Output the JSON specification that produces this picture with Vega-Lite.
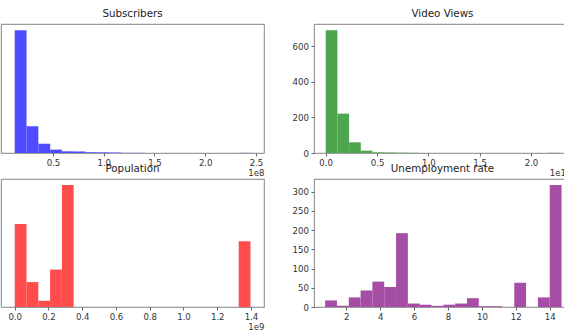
{
  "$schema": "https://vega.github.io/schema/vega-lite/v6.json",
  "background": "white",
  "padding": {"left": 0, "top": 8, "right": 0, "bottom": 0},
  "bounds": "flush",
  "columns": 2,
  "spacing": {"row": 26, "column": 50},
  "config": {
    "view": {"stroke": "#666", "strokeWidth": 0.8},
    "axis": {
      "domain": false, "grid": false, "tickColor": "#444", "tickSize": 3, "tickWidth": 0.8,
      "labelFont": "DejaVu Sans", "labelFontSize": 8.6, "labelColor": "#333", "labelPadding": 2.5,
      "labelFlush": false,
      "titleFont": "DejaVu Sans", "titleFontSize": 8.6, "titleFontWeight": "normal", "titleColor": "#333",
      "titlePadding": 1, "titleAnchor": "end"
    },
    "title": {"font": "DejaVu Sans", "fontSize": 10.3, "fontWeight": "normal", "color": "#222", "offset": 5, "baseline": "alphabetic", "anchor": "middle"}
  },
  "concat": [
    {
      "width": 263, "height": 129,
      "title": {"text": "Subscribers"},
      "data": {"values": [
        {"bin_start": 0.1230, "bin_end": 0.2394, "count": 728},
        {"bin_start": 0.2394, "bin_end": 0.3557, "count": 158},
        {"bin_start": 0.3557, "bin_end": 0.4721, "count": 55},
        {"bin_start": 0.4721, "bin_end": 0.5884, "count": 20},
        {"bin_start": 0.5884, "bin_end": 0.7048, "count": 10},
        {"bin_start": 0.7048, "bin_end": 0.8211, "count": 9},
        {"bin_start": 0.8211, "bin_end": 0.9375, "count": 5},
        {"bin_start": 0.9375, "bin_end": 1.0538, "count": 4},
        {"bin_start": 1.0538, "bin_end": 1.1702, "count": 3},
        {"bin_start": 1.1702, "bin_end": 1.2865, "count": 1},
        {"bin_start": 1.2865, "bin_end": 1.4029, "count": 1},
        {"bin_start": 2.3337, "bin_end": 2.4500, "count": 1}
      ]},
      "mark": {"type": "bar", "color": "#4d4dff", "opacity": 1},
      "encoding": {
        "x": {"field": "bin_start", "type": "quantitative",
              "scale": {"domain": [-0.0123, 2.579], "nice": false, "zero": false},
              "axis": {"values": [0.5, 1, 1.5, 2, 2.5], "format": ".1f", "title": "1e8"}},
        "x2": {"field": "bin_end"},
        "y": {"field": "count", "type": "quantitative", "scale": {"domain": [0, 764.4], "nice": false}, "axis": null},
        "y2": {"datum": 0}
      }
    },
    {
      "width": 257, "height": 129,
      "title": {"text": "Video Views"},
      "data": {"values": [
        {"bin_start": 0.000, "bin_end": 0.114, "count": 690},
        {"bin_start": 0.114, "bin_end": 0.228, "count": 221},
        {"bin_start": 0.228, "bin_end": 0.342, "count": 60},
        {"bin_start": 0.342, "bin_end": 0.456, "count": 13},
        {"bin_start": 0.456, "bin_end": 0.570, "count": 4},
        {"bin_start": 0.570, "bin_end": 0.684, "count": 3},
        {"bin_start": 0.684, "bin_end": 0.798, "count": 2},
        {"bin_start": 0.798, "bin_end": 0.912, "count": 1},
        {"bin_start": 2.166, "bin_end": 2.280, "count": 1}
      ]},
      "mark": {"type": "bar", "color": "#4da64d", "opacity": 1},
      "encoding": {
        "x": {"field": "bin_start", "type": "quantitative",
              "scale": {"domain": [-0.114, 2.3897], "nice": false, "zero": false},
              "axis": {"values": [0, 0.5, 1, 1.5, 2], "format": ".1f", "title": "1e11"}},
        "x2": {"field": "bin_end"},
        "y": {"field": "count", "type": "quantitative", "scale": {"domain": [0, 724.5], "nice": false},
              "axis": {"values": [0, 200, 400, 600], "title": null}},
        "y2": {"datum": 0}
      }
    },
    {
      "width": 263, "height": 128,
      "title": {"text": "Population"},
      "data": {"values": [
        {"bin_start": 0.0002, "bin_end": 0.0700, "count": 213},
        {"bin_start": 0.0700, "bin_end": 0.1399, "count": 64},
        {"bin_start": 0.1399, "bin_end": 0.2097, "count": 16},
        {"bin_start": 0.2097, "bin_end": 0.2796, "count": 96},
        {"bin_start": 0.2796, "bin_end": 0.3494, "count": 313},
        {"bin_start": 1.3272, "bin_end": 1.3970, "count": 169}
      ]},
      "mark": {"type": "bar", "color": "#ff4d4d", "opacity": 1},
      "encoding": {
        "x": {"field": "bin_start", "type": "quantitative",
              "scale": {"domain": [-0.0812, 1.477], "nice": false, "zero": false},
              "axis": {"values": [0, 0.2, 0.4, 0.6, 0.8, 1.0, 1.2, 1.4], "format": ".1f", "title": "1e9"}},
        "x2": {"field": "bin_end"},
        "y": {"field": "count", "type": "quantitative", "scale": {"domain": [0, 328.65], "nice": false}, "axis": null},
        "y2": {"datum": 0}
      }
    },
    {
      "width": 257, "height": 128,
      "title": {"text": "Unemployment rate"},
      "data": {"values": [
        {"bin_start": 0.75, "bin_end": 1.4475, "count": 17},
        {"bin_start": 1.4475, "bin_end": 2.145, "count": 3},
        {"bin_start": 2.145, "bin_end": 2.8425, "count": 25},
        {"bin_start": 2.8425, "bin_end": 3.54, "count": 43},
        {"bin_start": 3.54, "bin_end": 4.2375, "count": 66},
        {"bin_start": 4.2375, "bin_end": 4.935, "count": 52},
        {"bin_start": 4.935, "bin_end": 5.6325, "count": 192},
        {"bin_start": 5.6325, "bin_end": 6.33, "count": 9},
        {"bin_start": 6.33, "bin_end": 7.0275, "count": 6},
        {"bin_start": 7.0275, "bin_end": 7.725, "count": 3},
        {"bin_start": 7.725, "bin_end": 8.4225, "count": 6},
        {"bin_start": 8.4225, "bin_end": 9.12, "count": 9},
        {"bin_start": 9.12, "bin_end": 9.8175, "count": 23},
        {"bin_start": 9.8175, "bin_end": 10.515, "count": 2},
        {"bin_start": 10.515, "bin_end": 11.2125, "count": 2},
        {"bin_start": 11.91, "bin_end": 12.6075, "count": 63},
        {"bin_start": 13.305, "bin_end": 14.0025, "count": 25},
        {"bin_start": 14.0025, "bin_end": 14.7, "count": 317}
      ]},
      "mark": {"type": "bar", "color": "#a64da6", "opacity": 1},
      "encoding": {
        "x": {"field": "bin_start", "type": "quantitative",
              "scale": {"domain": [0.0944, 15.257], "nice": false, "zero": false},
              "axis": {"values": [2, 4, 6, 8, 10, 12, 14], "format": "d", "title": null}},
        "x2": {"field": "bin_end"},
        "y": {"field": "count", "type": "quantitative", "scale": {"domain": [0, 332.85], "nice": false},
              "axis": {"values": [0, 50, 100, 150, 200, 250, 300], "title": null}},
        "y2": {"datum": 0}
      }
    }
  ]
}
